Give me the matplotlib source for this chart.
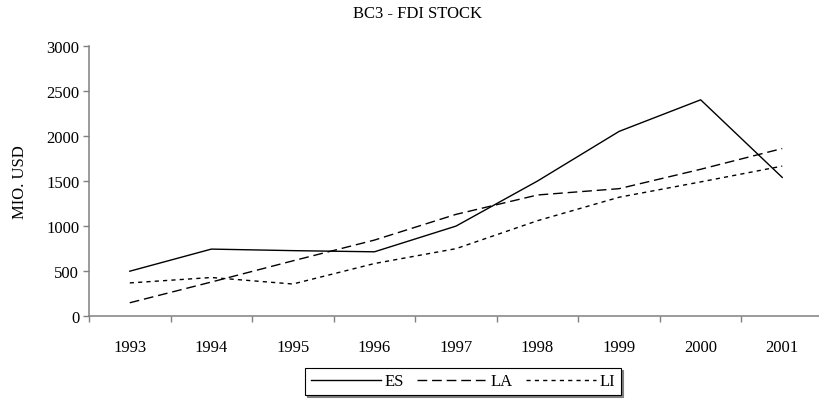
import matplotlib
matplotlib.use("Agg")
import matplotlib.pyplot as plt
import numpy as np

years = ["1993", "1994", "1995", "1996", "1997", "1998", "1999", "2000", "2001"]
es = [500, 745, 728, 715, 1000, 1500, 2050, 2400, 1540]
la = [150, 380, 615, 845, 1130, 1345, 1415, 1630, 1860]
li = [370, 430, 358, 585, 750, 1060, 1320, 1490, 1665]

plt.rcParams['font.family'] = ['Liberation Serif', 'DejaVu Serif']
FS = 12

W, H = 820, 402
fig = plt.figure(figsize=(W / 100, H / 100), dpi=100)
ax = fig.add_axes([89 / W, (H - 317.3) / H, 734 / W, (317.3 - 46.7) / H])

x = np.arange(len(years))
ax.plot(x, es, color='black', lw=1.0, linestyle='-', label='ES')
ax.plot(x, la, color='black', lw=1.0, linestyle=(0, (7, 3.5)), label='LA')
ax.plot(x, li, color='black', lw=1.0, linestyle=(0, (3, 3)), label='LI')

ax.set_xlim(-0.5, len(years) - 0.5)
ax.set_ylim(0, 3000)
ax.set_yticks(range(0, 3001, 500))
ax.tick_params(axis='y', direction='out', length=4, width=1, color='#808080',
               labelsize=FS, pad=3)

ax.set_xticks(np.arange(-0.5, len(years) - 0.4, 1.0))
ax.set_xticklabels([])
ax.set_xticks(x, minor=True)
ax.set_xticklabels(years, minor=True)
ax.tick_params(axis='x', which='major', direction='out', length=4, width=1, color='#808080')
ax.tick_params(axis='x', which='minor', length=0, labelsize=FS, pad=16)

for s in ['top', 'right']:
    ax.spines[s].set_visible(False)
for s in ['left', 'bottom']:
    ax.spines[s].set_color('#808080')
    ax.spines[s].set_linewidth(1.1)

ax.set_ylabel('MIO. USD', fontsize=FS, labelpad=13)

fig.text(418 / W, 1 - 14 / H, 'BC3 - FDI STOCK', ha='center', va='center', fontsize=FS)

leg = fig.legend(loc='center', bbox_to_anchor=(463 / W, 1 - 382.5 / H), ncol=3,
                 fontsize=FS, frameon=True, fancybox=False, edgecolor='black',
                 handlelength=4.2, handletextpad=0.2, columnspacing=0.8,
                 borderpad=0.35, borderaxespad=0,
                 shadow={'color': '#808080', 'alpha': 1, 'ox': 1.5, 'oy': -1.5})
leg.get_frame().set_linewidth(0.8)

fig.savefig('out.png', dpi=100)
